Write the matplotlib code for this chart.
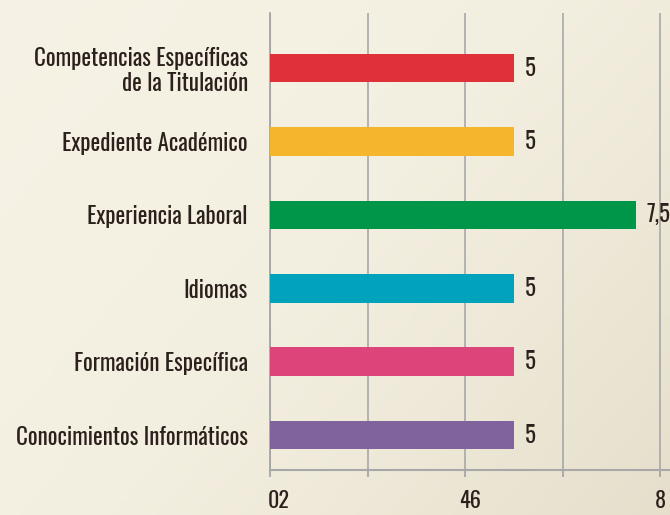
import numpy as np
import matplotlib.pyplot as plt
from matplotlib.colors import LinearSegmentedColormap
import matplotlib.transforms as mtransforms

categorias = ['Competencias Específicas\nde la Titulación', 'Expediente Académico',
              'Experiencia Laboral', 'Idiomas', 'Formación Específica',
              'Conocimientos Informáticos']
valores = [5, 5, 7.5, 5, 5, 5]
etiquetas = ['5', '5', '7,5', '5', '5', '5']
colores = ['#e0313a', '#f5b52c', '#00964a', '#00a3bb', '#dd447a', '#80629c']
ticks_texto = ['02', '46', '8']
ticks_pos = [0.17, 4.1, 8.0]

plt.rcParams['font.family'] = ['Oswald', 'Liberation Sans Narrow', 'DejaVu Sans']
texto = '#2b201b'

fig = plt.figure(figsize=(6.7, 5.15), dpi=100)

# fondo degradado
bg = fig.add_axes([0, 0, 1, 1], zorder=-10)
gx, gy = np.meshgrid(np.linspace(0, 1, 200), np.linspace(0, 1, 200))
grad = 0.6 * gx + 0.4 * gy
cmap = LinearSegmentedColormap.from_list('fondo', ['#f6f3e6', '#f3efe0', '#e6dfcc'])
bg.imshow(grad, cmap=cmap, aspect='auto', extent=[0, 1, 0, 1], origin='upper')
bg.axis('off')

ax = fig.add_axes([270 / 670, 1 - 470 / 515, 400 / 670, 457 / 515])
ax.patch.set_alpha(0)

y = np.arange(len(valores))
ax.barh(y, valores, height=0.39, color=colores, zorder=3)
for yi, v, t in zip(y, valores, etiquetas):
    ax.annotate(t, (v, yi), xytext=(8, 0), textcoords='offset points',
                va='center', ha='left', fontsize=16.5, color=texto)

ax.set_xlim(0, 8.2)
ax.set_ylim(5.476, -0.75)
ax.set_xticks([0, 2, 4, 6, 8])
ax.set_xticklabels([])
ax.set_yticks(y)
ax.set_yticklabels(categorias, fontsize=16.5, color=texto, linespacing=1.1)
ax.tick_params(axis='y', length=0, pad=16)
ax.tick_params(axis='x', length=5, color='#a0a0a0', width=1.2)
ax.grid(axis='x', color='#a8a8a8', linewidth=1.2, zorder=0)

for s in ['top', 'right']:
    ax.spines[s].set_visible(False)
ax.spines['left'].set_color('#a0a0a0')
ax.spines['left'].set_linewidth(1.2)
ax.spines['bottom'].set_color('#a8a8a8')
ax.spines['bottom'].set_linewidth(1.5)

trans = mtransforms.blended_transform_factory(ax.transData, ax.transAxes)
for p, t in zip(ticks_pos, ticks_texto):
    ax.text(p, -0.068, t, transform=trans, ha='center', va='center',
            fontsize=16, color=texto)

fig.savefig('out.png', dpi=100)
